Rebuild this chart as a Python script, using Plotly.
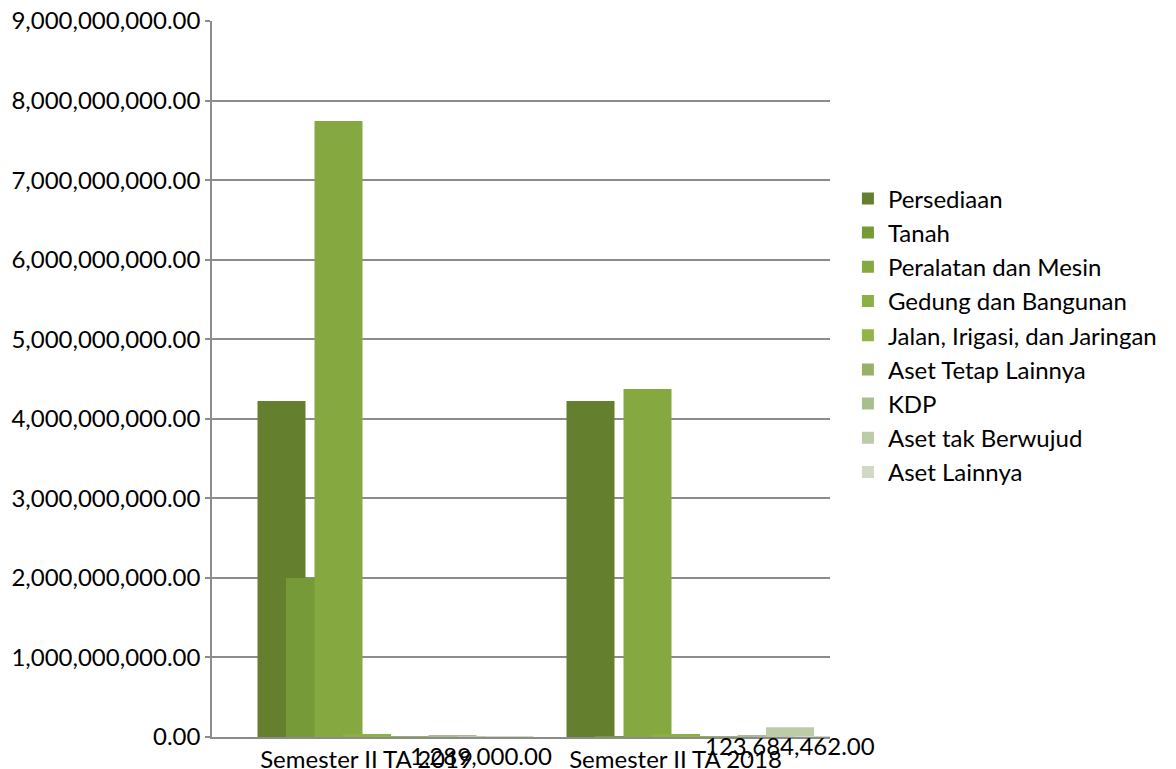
import plotly.graph_objects as go

categories = ["Semester II TA 2019", "Semester II TA 2018"]
series_names = ["Persediaan", "Tanah", "Peralatan dan Mesin", "Gedung dan Bangunan",
                "Jalan, Irigasi, dan Jaringan", "Aset Tetap Lainnya", "KDP",
                "Aset tak Berwujud", "Aset Lainnya"]
persediaan = [4223000000, 4223000000]
tanah = [2000000000, 2000000]
peralatan = [7743000000, 4374000000]
gedung = [38000000, 38000000]
jalan = [12000000, 12000000]
aset_tetap = [3000000, 3000000]
kdp = [25000000, 25000000]
aset_tak_berwujud = [1289000, 123684462]
aset_lainnya = [500000, 500000]
series_values = [persediaan, tanah, peralatan, gedung, jalan, aset_tetap, kdp,
                 aset_tak_berwujud, aset_lainnya]
colors = ["#64802f", "#779a39", "#86a841", "#8bb043", "#92b548", "#98b068",
          "#a9be8d", "#bccca9", "#cfd9c4"]

FONT = "Lato, Carlito, 'DejaVu Sans', sans-serif"
FS = 24
PX_PER_CAT = 309.0
bar_w = 48 / PX_PER_CAT
step = 28.5 / PX_PER_CAT
start = -109 / PX_PER_CAT

fig = go.Figure()
for i, (name, vals, col) in enumerate(zip(series_names, series_values, colors)):
    fig.add_trace(go.Bar(
        x=[0, 1], y=vals, name=name,
        marker=dict(color=col, line=dict(width=0)),
        offset=start + step * i, width=bar_w,
        legendgroup=name,
        hovertext=categories,
    ))

# data labels for "Aset tak Berwujud"
idx = series_names.index("Aset tak Berwujud")
for c, v in enumerate(aset_tak_berwujud):
    fig.add_annotation(
        x=c + start + step * idx + bar_w / 2, y=v,
        text=f"{v:,.2f}", showarrow=False,
        yanchor="top", yshift=-2,
        font=dict(family=FONT, size=FS, color="#000000"),
    )

fig.update_layout(
    width=1176, height=769,
    margin=dict(l=212, r=346, t=21, b=32, autoexpand=False),
    paper_bgcolor="white", plot_bgcolor="white",
    barmode="overlay",
    font=dict(family=FONT, size=FS, color="#000000"),
    showlegend=True,
    legend=dict(
        x=1.029, y=0.561, xanchor="left", yanchor="middle",
        traceorder="grouped", tracegroupgap=0,
        font=dict(family=FONT, size=FS, color="#000000"),
        bgcolor="rgba(0,0,0,0)",
        itemsizing="constant",
    ),
    xaxis=dict(
        tickmode="array", tickvals=[0, 1], ticktext=categories,
        range=[-0.5, 1.5], automargin=False,
        showgrid=False, zeroline=False,
        showline=True, linecolor="#8c8c8c", linewidth=1.5,
        ticks="", tickfont=dict(family=FONT, size=FS, color="#000000"),
    ),
    yaxis=dict(
        range=[0, 9000000000], dtick=1000000000, tick0=0,
        tickformat=",.2f", automargin=False,
        showgrid=True, gridcolor="#8c8c8c", gridwidth=1.5,
        zeroline=False,
        showline=True, linecolor="#8c8c8c", linewidth=1.5,
        ticks="outside", ticklen=5, tickcolor="#8c8c8c", tickwidth=1.5,
        tickfont=dict(family=FONT, size=FS, color="#000000"),
    ),
)

fig.write_html("out.html")
